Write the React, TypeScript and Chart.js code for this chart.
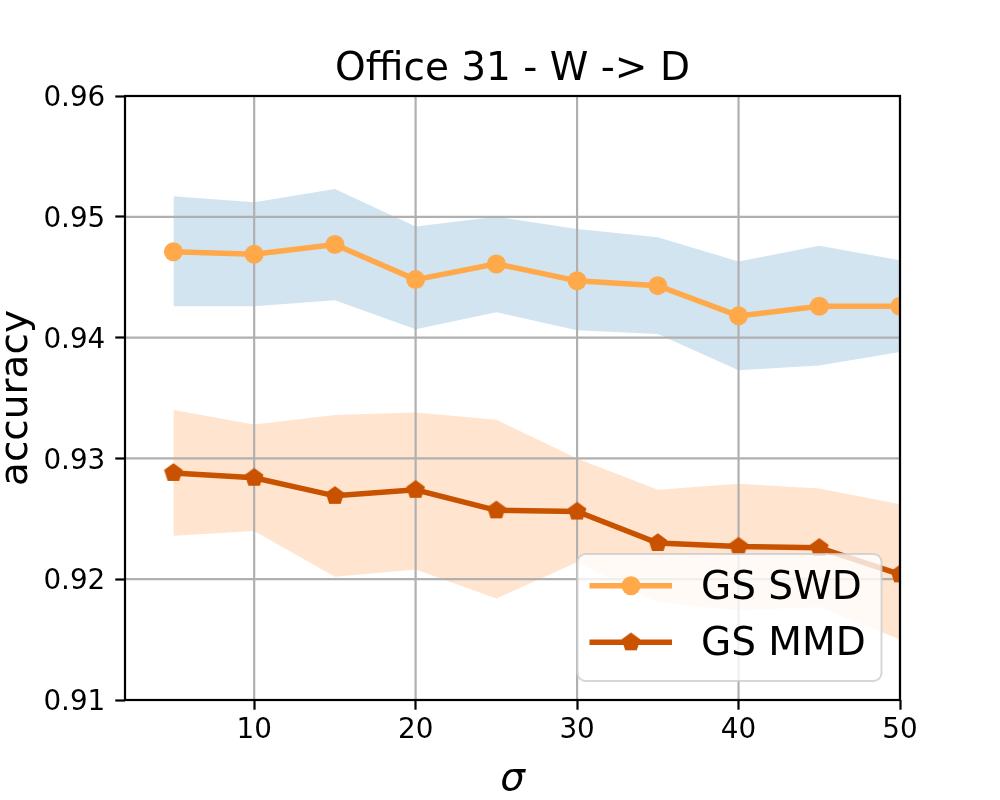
import React, { useEffect, useRef } from "react";
import { Chart, registerables } from "chart.js";

Chart.register(...registerables);

const sigma = [5, 10, 15, 20, 25, 30, 35, 40, 45, 50];
const swdMean = [0.9471, 0.9469, 0.9477, 0.9448, 0.9461, 0.9447, 0.9443, 0.9418, 0.9426, 0.9426];
const swdUpper = [0.9517, 0.9512, 0.9523, 0.9492, 0.95, 0.949, 0.9483, 0.9463, 0.9476, 0.9464];
const swdLower = [0.9426, 0.9426, 0.9431, 0.9407, 0.9421, 0.9406, 0.9403, 0.9373, 0.9377, 0.9388];
const mmdMean = [0.9288, 0.9284, 0.9269, 0.9274, 0.9257, 0.9256, 0.923, 0.9227, 0.9226, 0.9204];
const mmdUpper = [0.934, 0.9328, 0.9336, 0.9338, 0.9332, 0.93, 0.9274, 0.9279, 0.9275, 0.9262];
const mmdLower = [0.9236, 0.924, 0.9202, 0.9208, 0.9184, 0.9214, 0.9181, 0.9174, 0.9177, 0.915];

const xTicks = [10, 20, 30, 40, 50];
const yTicks = [0.91, 0.92, 0.93, 0.94, 0.95, 0.96];
const seriesNames = ["GS SWD", "GS MMD"];

const SWD_COLOR = "#ffa94a";
const MMD_COLOR = "#c85200";
const FONT = "DejaVu Sans";

function pentagon(r: number, color: string): HTMLCanvasElement {
  const size = Math.ceil(r * 2 + 4);
  const c = document.createElement("canvas");
  c.width = size;
  c.height = size;
  const g = c.getContext("2d")!;
  g.fillStyle = color;
  g.beginPath();
  for (let i = 0; i < 5; i++) {
    const a = -Math.PI / 2 + (i * 2 * Math.PI) / 5;
    const px = size / 2 + r * Math.cos(a);
    const py = size / 2 + r * Math.sin(a);
    if (i === 0) g.moveTo(px, py);
    else g.lineTo(px, py);
  }
  g.closePath();
  g.fill();
  return c;
}

const pts = (ys: number[]) => ys.map((y, i) => ({ x: sigma[i], y }));

const App: React.FC = () => {
  const canvasRef = useRef<HTMLCanvasElement | null>(null);
  const chartRef = useRef<Chart | null>(null);

  useEffect(() => {
    if (!canvasRef.current) return;
    const ctx = canvasRef.current.getContext("2d");
    if (!ctx) return;
    if (chartRef.current) chartRef.current.destroy();

    const penta = pentagon(9.8, MMD_COLOR);

    // grid over the bands, spines, title, axis labels and legend
    const decor = {
      id: "decor",
      beforeDatasetsDraw(chart: any) {
        const { ctx: c, chartArea: a, scales } = chart;
        c.save();
        c.strokeStyle = "#b0b0b0";
        c.lineWidth = 2.2;
        scales.x.ticks.forEach((t: any) => {
          const px = scales.x.getPixelForValue(t.value);
          c.beginPath();
          c.moveTo(px, a.top);
          c.lineTo(px, a.bottom);
          c.stroke();
        });
        scales.y.ticks.forEach((t: any) => {
          const py = scales.y.getPixelForValue(t.value);
          c.beginPath();
          c.moveTo(a.left, py);
          c.lineTo(a.right, py);
          c.stroke();
        });
        c.restore();
      },
      afterDraw(chart: any) {
        const { ctx: c, chartArea: a } = chart;
        c.save();
        c.strokeStyle = "black";
        c.lineWidth = 2.2;
        c.strokeRect(a.left, a.top, a.right - a.left, a.bottom - a.top);

        c.fillStyle = "black";
        c.textAlign = "center";
        c.textBaseline = "alphabetic";
        c.font = `39px "${FONT}"`;
        c.fillText("Office 31 - W -> D", (a.left + a.right) / 2, 80);

        c.font = `italic 39px "${FONT}"`;
        c.fillText("σ", (a.left + a.right) / 2, 790);

        c.save();
        c.translate(27, (a.top + a.bottom) / 2);
        c.rotate(-Math.PI / 2);
        c.font = `39px "${FONT}"`;
        c.fillText("accuracy", 0, 0);
        c.restore();

        // legend
        c.fillStyle = "rgba(255,255,255,0.8)";
        c.strokeStyle = "rgba(204,204,204,0.8)";
        c.lineWidth = 2;
        c.beginPath();
        c.roundRect(577.5, 554, 304, 127, 8);
        c.fill();
        c.stroke();

        const rows = [585.7, 642.3];
        const colors = [SWD_COLOR, MMD_COLOR];
        rows.forEach((ry, i) => {
          c.strokeStyle = colors[i];
          c.lineWidth = 5.5;
          c.beginPath();
          c.moveTo(589.5, ry);
          c.lineTo(672, ry);
          c.stroke();
          if (i === 0) {
            c.fillStyle = colors[i];
            c.beginPath();
            c.arc(631, ry, 9.5, 0, Math.PI * 2);
            c.fill();
          } else {
            c.drawImage(penta, 631 - penta.width / 2, ry - penta.height / 2);
          }
          c.fillStyle = "black";
          c.textAlign = "left";
          c.font = `39px "${FONT}"`;
          c.fillText(seriesNames[i], 701, ry + 13);
        });
        c.restore();
      },
    };

    const band = (data: number[], color: string, fill: any, order: number) => ({
      data: pts(data),
      borderColor: "transparent",
      borderWidth: 0,
      pointRadius: 0,
      backgroundColor: color,
      fill,
      order,
    });

    chartRef.current = new Chart(ctx, {
      type: "line",
      data: {
        datasets: [
          band(swdUpper, "rgba(31,119,180,0.2)", "+1", 4),
          band(swdLower, "rgba(31,119,180,0.2)", false, 5),
          band(mmdUpper, "rgba(255,127,14,0.2)", "+1", 2),
          band(mmdLower, "rgba(255,127,14,0.2)", false, 3),
          {
            label: seriesNames[0],
            data: pts(swdMean),
            borderColor: SWD_COLOR,
            backgroundColor: SWD_COLOR,
            borderWidth: 5.5,
            pointRadius: 9.5,
            pointBorderWidth: 0,
            pointBackgroundColor: SWD_COLOR,
            tension: 0,
            fill: false,
            order: 1,
          },
          {
            label: seriesNames[1],
            data: pts(mmdMean),
            borderColor: MMD_COLOR,
            backgroundColor: MMD_COLOR,
            borderWidth: 5.5,
            pointStyle: penta,
            pointRadius: 9.5,
            tension: 0,
            fill: false,
            order: 0,
          },
        ],
      },
      options: {
        responsive: false,
        animation: false,
        events: [],
        layout: { padding: { top: 96, right: 100, left: 0, bottom: 0 } },
        plugins: {
          legend: { display: false },
          title: { display: false },
          tooltip: { enabled: false },
          filler: { drawTime: "beforeDatasetsDraw" },
        },
        scales: {
          x: {
            type: "linear",
            min: 2,
            max: 50,
            afterFit: (s: any) => {
              s.height = 100;
            },
            afterBuildTicks: (s: any) => {
              s.ticks = xTicks.map((v) => ({ value: v }));
            },
            grid: {
              drawOnChartArea: false,
              drawTicks: true,
              tickLength: 9.7,
              tickWidth: 2.2,
              tickColor: "black",
            },
            border: { display: false },
            ticks: {
              color: "black",
              padding: 4,
              font: { family: FONT, size: 27.8 },
              maxRotation: 0,
            },
          },
          y: {
            type: "linear",
            min: 0.91,
            max: 0.96,
            afterFit: (s: any) => {
              s.width = 125;
            },
            afterBuildTicks: (s: any) => {
              s.ticks = yTicks.map((v) => ({ value: v }));
            },
            grid: {
              drawOnChartArea: false,
              drawTicks: true,
              tickLength: 9.7,
              tickWidth: 2.2,
              tickColor: "black",
            },
            border: { display: false },
            ticks: {
              color: "black",
              padding: 10,
              labelOffset: 3,
              font: { family: FONT, size: 27.8 },
              callback: (v: any) => Number(v).toFixed(2),
            },
          },
        },
      },
      plugins: [decor],
    } as any);

    return () => {
      if (chartRef.current) {
        chartRef.current.destroy();
        chartRef.current = null;
      }
    };
  }, []);

  return (
    <div style={{ position: "fixed", left: 0, top: 0, width: 1000, height: 800, background: "white" }}>
      <canvas ref={canvasRef} width={1000} height={800}></canvas>
    </div>
  );
};

export default App;
